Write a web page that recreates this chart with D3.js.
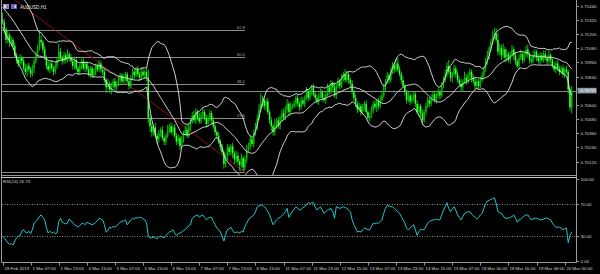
<!DOCTYPE html>
<html><head><meta charset="utf-8">
<script src="https://cdn.jsdelivr.net/npm/d3@7"></script>
<style>html,body{margin:0;padding:0;background:#000;overflow:hidden}svg{display:block}</style>
</head><body><svg id="c" width="600" height="274"></svg>
<script>
// ---------------- DATA ----------------
const symbolLabel = "AUDUSD,H1";
const rsiLabel = "RSI(14) 26.75";
const bidPrice = 0.70721;
// hourly closes before the first visible bar (needed by the Bollinger bands)
const prefixCloses = [.7157,.7154,.7159,.7152,.7156,.7149,.7151,.7146,.7147,.7142,.7145,.7141,.7137,.7141,.7135,.7139,.7134,.7130,.7135,.7132];
// visible hourly closes, 28 Feb 15:00 ... 20 Mar 04:00
const closes = [
.7130,.7124,.7115,.7119,.7113,.7115,.7110,.7102,.7098,.7095,.7100,.7097,.7091,.7088,.7093,.7090,.7086,.7091,.7097,
.7102,.7108,.7115,.7113,.7107,.7100,.7093,.7090,.7095,.7091,.7088,.7093,
.7098,.7105,.7100,.7097,.7102,.7098,.7103,.7100,.7097,.7093,.7098,.7091,.7088,.7093,
.7097,.7091,.7095,.7090,.7086,.7091,.7085,.7088,.7093,.7090,.7095,.7090,.7088,
.7081,.7075,.7078,.7073,.7076,.7080,.7075,.7078,.7081,.7085,.7080,.7083,.7086,
.7080,.7076,.7083,.7088,.7085,.7090,.7086,.7083,.7088,.7085,.7088,.7083,
.7049,.7042,.7037,.7041,.7034,.7031,.7036,.7039,.7032,.7029,.7034,.7039,.7042,.7037,.7041,.7034,
.7029,.7032,.7025,.7031,.7036,.7039,.7034,.7041,.7046,.7051,.7047,.7054,.7049,.7046,.7051,.7054,.7049,.7044,.7049,.7053,
.7047,.7042,.7037,.7034,.7029,.7024,.7020,.7010,.7017,.7024,.7020,.7025,.7019,.7014,.7017,.7012,.7009,.7015,.7007,.7014,
.7022,.7025,.7031,.7027,.7036,.7041,.7049,.7056,.7061,.7064,.7059,.7063,.7054,.7047,.7042,.7037,.7044,.7047,.7042,.7049,.7053,.7049,.7056,.7061,.7054,.7059,
.7059,.7061,.7066,.7061,.7058,.7064,.7061,.7066,.7071,.7066,.7071,.7075,.7069,.7066,.7063,.7068,.7071,.7066,.7064,.7069,.7075,.7071,.7078,.7075,.7068,.7076,.7080,.7076,.7083,.7086,.7081,
.7086,.7081,.7078,.7071,.7066,.7061,.7056,.7059,.7054,.7058,.7061,.7054,.7049,.7051,.7056,.7061,.7058,.7063,.7059,.7064,.7068,
.7075,.7080,.7085,.7081,.7088,.7093,.7090,.7095,.7090,.7086,.7081,.7076,.7071,.7064,.7068,
.7063,.7066,.7069,.7061,.7054,.7059,.7053,.7047,.7054,.7059,.7064,.7061,.7066,.7069,.7064,.7068,.7071,.7068,.7076,.7081,.7086,
.7093,.7088,.7083,.7086,.7091,.7086,.7081,.7078,.7075,.7080,.7083,.7080,.7085,.7088,.7083,.7080,.7076,.7080,.7076,.7081,.7085,
.7090,.7097,.7102,.7108,.7113,.7119,.7120,.7115,.7105,.7108,.7102,.7107,.7100,.7103,.7098,
.7103,.7107,.7102,.7097,.7093,.7100,.7103,.7098,.7102,.7107,.7103,.7098,.7097,.7102,.7105,.7100,.7097,.7102,.7098,.7103,
.7100,.7097,.7102,.7098,.7093,.7090,.7095,.7091,.7088,.7091,.7086,.7090,.7088,.7073,.7058,.7072
];
// upper / lower shadow lengths of each candle, in pips
const wickUpPips = [
6,3,2,4,2,3, 2,3,2,2,3, 2,3,4,2,3,2,3,2,4, 3,8,4,2, 3,2,4,2,3,2,3, 2,7,3,2,3,2,4,2, 3,2,2,3,2,2,
2,3,2,2,3,2,2,3,2,2,3,2, 2,3,2,4,2,3,2,3, 2,3,2,2,3,2,2,3,2,3,2,2,3,2, 3,4,2,3, 7,3,
3,2,4,2,3,2,3,2, 2,4,2,3,2,3, 2,3,2,3,2,3,4, 3,2,3,4,3,2,4, 3,4,2,3,2,3, 2,3,2,2,3,2,3,2,
2,3,2,2,3,2,4, 3,2,4,2,3,4, 3,4,2,3,4,3, 5,9,4,3,2,3, 2,3,2,4,2,3,2,3,4, 3,4,2,3,2,3,2,3,2,3,
3,2,4,2,3,2,3,2,3,2, 3,2,3,2,3,2,3,2,4,2,3,2,3,2,4, 3,2,2,3,2,3,2,3,2,3, 2,3,2,2,3,2,3,2,3,4,3,
3,2,3,2,4,3,3,4,5, 3,2,3,2,2,3, 2,3,2,2,3,2,2,3,2,3,3,2, 3,2,3,2,3,2,3,3, 4,3,5,4,2,3,2,3,
3,4,2,5,3,2,3,2,3,4,2,2,3, 3,2,3,4,2,3, 4,5,5,6, 4,3,5,2,4,2, 2,4,2,3,2,3,4,2,3,
3,4,2,3,4,2,2,3,3,2,3, 3,2,4,2,2,3,2,3, 2,2,3,2,3, 2,2,4
];
const wickDnPips = [
2,4,3,3,4,3, 3,2,3,3,2, 3,2,3,4,2,3,2,4,2, 2,2,3,3, 2,3,2,3,2,3,2, 3,2,2,3,2,3,2,3, 2,3,3,2,3,2,
3,2,3,2,2,3,2,2,3,2,2,3, 3,2,5,2,3,4,2,3, 3,2,3,2,2,3,2,3,2,2,3,2,2,3, 2,2,3,3, 4,5,
4,3,2,4,3,3,2,3, 3,2,3,2,3,2, 3,2,3,2,3,2,2, 2,3,2,2,3,2,2, 2,3,2,3,2,3, 3,2,3,3,2,3,2,4,
3,4,3,3,4,4,3, 3,4,2,3,2,3, 2,3,2,3,2,2, 2,2,3,3,4,2, 3,4,3,3,4,2,3,3,2, 2,3,3,2,3,2,3,2,3,2,
2,3,2,3,2,3,2,3,2,3, 2,3,2,3,2,3,2,3,2,3,2,3,2,3,2, 2,3,4,2,3,3,3,2,3,2, 3,2,3,3,2,3,2,4,3,2,2,
2,3,2,3,2,2,3,2,2, 2,3,2,3,3,2, 3,2,3,3,2,4,3,4,2,3,2,3, 2,3,2,3,2,3,2,2, 2,3,2,3,4,2,3,2,
2,3,4,2,3,2,3,4,2,3,2,3,2, 2,3,2,3,4,2, 2,3,2,3, 3,4,2,4,3,2, 3,2,4,3,2,3,2,3,2,
2,3,3,2,2,3,3,2,3,2,2, 2,3,2,3,2,2,3,2, 3,2,3,3,2, 4,3,5
];
// RSI(14) value of each visible bar, read from the lower window
const rsiValues = [
30,28,25,22,20,21,19,24,28,30,31,36,38,35,34,36,33,38,46,48,
50,54,56,53,50,40,34,36,34,35,33,34,48,52,47,46,45,46,51,49,
46,44,43,41,43,45,46,44,47,46,45,44,45,47,49,52,51,50,44,35,
37,41,40,42,41,43,45,47,48,49,50,44,47,50,52,51,53,52,53,53,
51,50,46,30,28,28,29,28,27,29,30,29,28,31,33,35,36,38,34,31,
33,34,35,37,38,40,43,44,52,54,55,56,53,55,56,53,50,52,53,53,
48,44,40,38,35,30,24,32,38,39,41,37,34,35,35,34,36,35,42,46,
50,53,54,56,60,66,67,68,68,66,64,60,56,50,44,47,50,52,53,55,
57,60,64,53,57,60,63,66,64,62,63,65,66,69,71,70,71,71,66,62,
64,66,62,58,60,62,63,64,60,52,66,65,64,65,66,65,64,62,60,50,
44,40,35,36,35,38,40,39,38,38,42,46,45,46,46,48,50,58,64,68,
67,66,66,64,62,60,58,54,50,46,40,38,40,42,44,38,31,36,38,38,
38,42,46,48,49,50,50,51,50,50,56,62,66,71,64,60,63,66,62,56,
53,50,54,58,59,60,60,57,55,53,51,53,56,58,64,70,73,74,75,76,
77,70,60,59,58,55,52,52,52,53,54,56,52,47,50,51,53,55,56,56,
53,50,51,52,52,51,50,50,51,52,52,51,50,46,43,41,41,41,40,38,
39,40,22,31,35
];
const priceTicks = [0.71440,0.71320,0.71200,0.71080,0.70960,0.70840,0.70600,0.70480,0.70360,0.70240,0.70120];
const rsiTicks = [100,70,30,0];
const rsiLevels = [70,30];
const timeLabels = ["28 Feb 2019","1 Mar 07:00","1 Mar 23:00","4 Mar 15:00","5 Mar 07:00","5 Mar 23:00","6 Mar 15:00",
  "7 Mar 07:00","7 Mar 23:00","8 Mar 15:00","11 Mar 07:00","11 Mar 23:00","12 Mar 15:00","13 Mar 07:00",
  "13 Mar 23:00","14 Mar 15:00","15 Mar 07:00","18 Mar 00:00","18 Mar 16:00","19 Mar 08:00","20 Mar 00:00"];
const timeLabelEvery = 16; // bars between time labels
const fibLevels = [0,23.6,38.2,50,61.8,100];
const fibHigh = 0.7198, fibLow = 0.7003, fibStartBar = -37, fibEndBar = 138;
const bbPeriod = 20, bbDev = 2;

// ---------------- BOLLINGER BANDS ----------------
const all = prefixCloses.concat(closes);
const P = prefixCloses.length;
const bb = closes.map((c, k) => {
  const i = k + P, w = all.slice(i - bbPeriod + 1, i + 1);
  const m = d3.mean(w), sd = Math.sqrt(d3.mean(w, v => (v - m) * (v - m)));
  return {mid: m, up: m + bbDev * sd, lo: m - bbDev * sd};
});

// ---------------- DRAW ----------------
const svg = d3.select("#c");
const FONT = "'Liberation Sans', Arial, sans-serif";
const GRID = "#9a9a9a", TXT = "#d2d2d2";
svg.append("rect").attr("width",600).attr("height",274).attr("fill","#000");

const x = d3.scaleLinear().domain([0, 320]).range([2.5, 564.7]);
const y = d3.scaleLinear().domain([0.70007, 0.71488]).range([175, 0]);
const yr = d3.scaleLinear().domain([0, 100]).range([260.7, 179]);

const defs = svg.append("defs");
defs.append("clipPath").attr("id","cm").append("rect").attr("x",2).attr("y",0).attr("width",574).attr("height",175);
defs.append("clipPath").attr("id","cr").append("rect").attr("x",2).attr("y",178).attr("width",574).attr("height",84);

const gm = svg.append("g").attr("clip-path","url(#cm)");

// bid line
gm.append("line").attr("x1",2).attr("x2",576).attr("y1",Math.round(y(bidPrice))+0.5).attr("y2",Math.round(y(bidPrice))+0.5)
  .attr("stroke","#8c8c8c").attr("stroke-width",1);

// Fibonacci levels
fibLevels.forEach(l => {
  const p = fibLow + (fibHigh - fibLow) * l / 100;
  const yy = Math.round(y(p)) + 0.5;
  if (yy < 0 || yy > 176) return;
  gm.append("line").attr("x1",x(fibStartBar)).attr("x2",x(fibEndBar)).attr("y1",yy).attr("y2",yy)
    .attr("stroke","#8a8a8a").attr("stroke-width",1);
  gm.append("text").attr("x",x(fibEndBar)).attr("y",yy-1.5).attr("text-anchor","end")
    .attr("font-family",FONT).attr("font-size",4.2).attr("fill","#a8a8a8").text(l.toFixed(1));
});
gm.append("line").attr("x1",x(fibStartBar)).attr("y1",y(fibHigh)).attr("x2",x(fibEndBar)).attr("y2",y(fibLow))
  .attr("stroke","#a01010").attr("stroke-width",0.9);

// candles
const candles = gm.append("g");
closes.forEach((c, i) => {
  const o = i === 0 ? prefixCloses[P-1] : closes[i-1];
  const hi = Math.max(o, c) + (wickUpPips[i] || 2) / 1e4;
  const lo = Math.min(o, c) - (wickDnPips[i] || 2) / 1e4;
  const cx = x(i);
  candles.append("line").attr("x1",cx).attr("x2",cx).attr("y1",y(hi)).attr("y2",y(lo))
    .attr("stroke","#10d010").attr("stroke-width",0.9);
  const top = y(Math.max(o,c)), bot = y(Math.min(o,c));
  candles.append("rect").attr("x",cx-0.75).attr("width",1.5).attr("y",top).attr("height",Math.max(bot-top,0.8))
    .attr("fill", c >= o ? "#00b400" : "#3cff3c");
});

// Bollinger bands
["up","mid","lo"].forEach(k => {
  gm.append("path").datum(bb).attr("fill","none").attr("stroke","#e4e4e4").attr("stroke-width",0.9)
    .attr("d", d3.line().x((d,i) => x(i)).y(d => y(d[k])));
});

// symbol label + icons
svg.append("rect").attr("x",3).attr("y",4).attr("width",6).attr("height",5).attr("fill","#7f93d8");
svg.append("rect").attr("x",4.5).attr("y",5).attr("width",1.2).attr("height",3).attr("fill","#ffffff");
svg.append("rect").attr("x",7).attr("y",5).attr("width",1.2).attr("height",3).attr("fill","#d04848");
svg.append("rect").attr("x",11).attr("y",4).attr("width",6).attr("height",5).attr("fill","#5868c8");
svg.append("rect").attr("x",12.5).attr("y",5).attr("width",1.2).attr("height",3).attr("fill","#d84a4a");
svg.append("rect").attr("x",14.6).attr("y",5).attr("width",1.2).attr("height",3).attr("fill","#e8e8ff");
svg.append("text").attr("x",20).attr("y",8.5).attr("font-family",FONT).attr("font-size",4.6).attr("fill","#e0e0e0").text(symbolLabel);

// RSI pane
const gr = svg.append("g").attr("clip-path","url(#cr)");
rsiLevels.forEach(l => {
  gr.append("line").attr("x1",2).attr("x2",576).attr("y1",Math.round(yr(l))+0.5).attr("y2",Math.round(yr(l))+0.5)
    .attr("stroke","#8a8a8a").attr("stroke-width",1).attr("stroke-dasharray","1,1.5");
});
gr.append("path").datum(rsiValues).attr("fill","none").attr("stroke","#22c8cc").attr("stroke-width",1)
  .attr("d", d3.line().x((d,i) => x(i)).y(d => yr(d)));
svg.append("text").attr("x",3).attr("y",183).attr("font-family",FONT).attr("font-size",4.4).attr("fill","#d0d0d0").text(rsiLabel);

// frames
const frame = svg.append("g").attr("stroke",GRID).attr("fill","none").attr("stroke-width",1);
frame.append("line").attr("x1",1.5).attr("x2",1.5).attr("y1",0).attr("y2",262.5);
frame.append("line").attr("x1",576.5).attr("x2",576.5).attr("y1",0).attr("y2",262.5);
frame.append("line").attr("x1",1.5).attr("x2",576.5).attr("y1",175.5).attr("y2",175.5);
frame.append("line").attr("x1",1.5).attr("x2",576.5).attr("y1",177.5).attr("y2",177.5).attr("stroke","#c8c8c8");
frame.append("line").attr("x1",1.5).attr("x2",576.5).attr("y1",262.5).attr("y2",262.5);

// price axis
priceTicks.forEach(p => {
  const yy = Math.round(y(p)) + 0.5;
  svg.append("line").attr("x1",576.5).attr("x2",579).attr("y1",yy).attr("y2",yy).attr("stroke",GRID);
  svg.append("text").attr("x",580.5).attr("y",yy).attr("dy","0.35em").attr("font-family",FONT).attr("font-size",4.4)
    .attr("fill",TXT).text(d3.format(".5f")(p));
});
// current price box
{
  const yy = y(bidPrice);
  svg.append("rect").attr("x",577.5).attr("y",yy-2.8).attr("width",19).attr("height",5.6).attr("fill","#8e96a6");
  svg.append("text").attr("x",580.5).attr("y",yy).attr("dy","0.35em").attr("font-family",FONT).attr("font-size",4.4)
    .attr("fill","#ffffff").text(d3.format(".5f")(bidPrice));
}
// RSI axis
rsiTicks.forEach(v => {
  const yy = Math.round(yr(v)) + 0.5;
  svg.append("line").attr("x1",576.5).attr("x2",579).attr("y1",yy).attr("y2",yy).attr("stroke",GRID);
  svg.append("text").attr("x",580.5).attr("y",yy).attr("dy","0.35em").attr("font-family",FONT).attr("font-size",4.4)
    .attr("fill",TXT).text(d3.format(".2f")(v));
});
// time axis
timeLabels.forEach((t, k) => {
  const xx = Math.round(x(k * timeLabelEvery)) + 0.5;
  svg.append("line").attr("x1",xx).attr("x2",xx).attr("y1",262.5).attr("y2",265.5).attr("stroke",GRID);
  svg.append("text").attr("x",xx+1).attr("y",268.5).attr("dy","0.35em").attr("font-family",FONT).attr("font-size",4.4)
    .attr("fill",TXT).text(t);
});
</script></body></html>
